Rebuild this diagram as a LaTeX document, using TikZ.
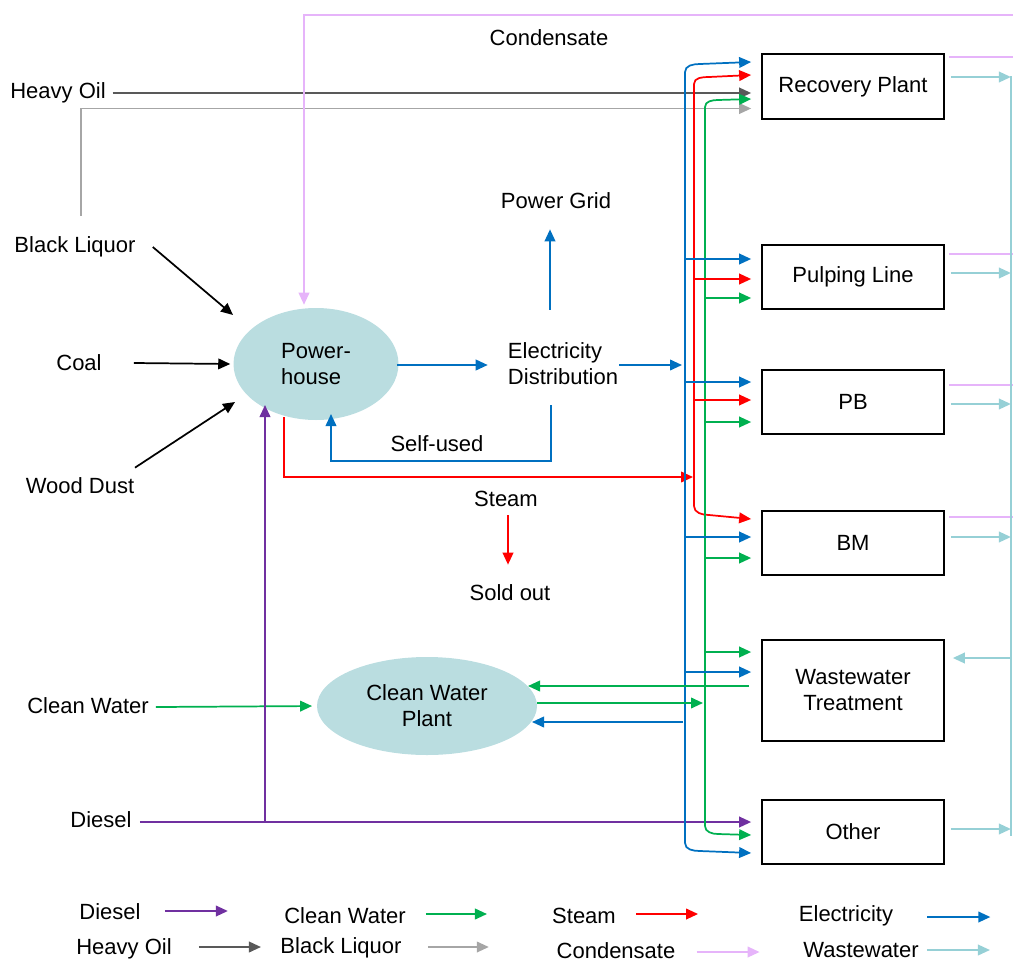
\documentclass[tikz,border=0pt]{standalone}
\usepackage{fontspec}
\setmainfont{Liberation Sans}
\usetikzlibrary{arrows.meta,shapes.geometric,calc}
\definecolor{cBlue}{RGB}{0,112,192}
\definecolor{cRed}{RGB}{255,0,0}
\definecolor{cGreen}{RGB}{0,176,80}
\definecolor{cPurple}{RGB}{112,48,160}
\definecolor{cDGray}{RGB}{89,89,89}
\definecolor{cLGray}{RGB}{166,166,166}
\definecolor{cPink}{RGB}{230,180,250}
\definecolor{cTeal}{RGB}{150,208,214}
\definecolor{cFill}{RGB}{186,221,224}
\begin{document}
\begin{tikzpicture}[x=0.75pt,y=-0.75pt,
  every node/.style={font=\fontsize{16.5}{19.5}\selectfont, inner sep=0pt},
  ln/.style={line width=1.3pt},
  arr/.style={-{Triangle[length=9pt,width=8pt]}},
  elec/.style={ln,cBlue,arr}, steam/.style={ln,cRed,arr}, water/.style={ln,cGreen,arr},
  dies/.style={ln,cPurple,arr}, hoil/.style={ln,cDGray,arr}, bliq/.style={ln,cLGray,arr},
  cond/.style={ln,cPink,arr}, wwat/.style={ln,cTeal,arr}, feed/.style={ln,black,arr},
  plain/.style={ln}, 
  box/.style={draw=black, line width=1.3pt, minimum width=136.5pt, minimum height=48.5pt, inner sep=2pt, align=center},
  plant/.style={ellipse, fill=cFill, align=center}
]
\useasboundingbox (0,0) rectangle (1013,964);

% ---------- boxes ----------
\node[box] (rp) at (853,86.5) {Recovery Plant};
\node[box] (pl) at (853,277) {Pulping Line};
\node[box] (pb) at (853,402) {PB};
\node[box] (bm) at (853,543) {BM};
\node[box, minimum height=75.75pt] (ww) at (853,690.5) {Wastewater\\Treatment};
\node[box] (ot) at (853,832) {Other};

% ---------- plants ----------
\node[plant, minimum width=123.75pt, minimum height=84pt, align=left] (ph) at (316,364) {Power-\\house};
\node[plant, minimum width=165pt, minimum height=73.5pt] (cw) at (427,706) {Clean Water\\Plant};

% ---------- labels ----------
\node (tHO) at (58,93) {Heavy Oil};
\node (tBL) at (75,247) {Black Liquor};
\node (tCo) at (79,363) {Coal};
\node (tWD) at (80,486) {Wood Dust};
\node (tCW) at (88,706) {Clean Water};
\node (tDi) at (101,820) {Diesel};
\node (tCond) at (549,38) {Condensate};
\node (tPG) at (556,201) {Power Grid};
\node[align=left] (ed) at (563,364) {Electricity\\Distribution};
\node (tSU) at (437,444) {Self-used};
\node (tSt) at (506,499) {Steam};
\node (tSO) at (510,593) {Sold out};

% ---------- heavy oil / black liquor ----------
\draw[hoil, shorten <=5pt, shorten >=7.5pt] (tHO.east) -- (tHO.east -| rp.west);
\coordinate (blTop) at (81,216);
\draw[bliq, shorten >=7.5pt] (blTop) |- ($(rp.west)+(0,22)$);

% ---------- feeds to power-house ----------
\draw[feed] ($(tBL.east)+(17,0)$) -- ($(ph.center)+(-83,-49)$);
\draw[feed] ($(tCo.east)+(32,0)$) -- ($(ph.west)+(-3,0)$);
\draw[feed] ($(tWD.north)+(55,-10)$) -- ($(ph.center)+(-81,38)$);

% ---------- condensate ----------
\draw[cond] (1013,15) -- (304,15) -- ($(ph.north)+(-12,-3)$);
\foreach \b/\dy in {rp/-29.5, pl/-23, pb/-17, bm/-26}{
  \draw[ln,cPink] ($(\b.east)+(4,\dy)$) -- ++(70,0);
}

% ---------- clean water / diesel ----------
\draw[water, shorten >=3.5pt] ($(tCW.east)+(7,1)$) -- (cw.west);
\draw[dies] ($(tDi.east)+(8,2)$) -- ($(ot.west)+(-10,-10)$);
\draw[dies] (265,822) -- ($(ph.center)+(-51,41)$);

% ---------- electricity from power-house ----------
\draw[elec] ($(ph.east)+(-2,1)$) -- ($(ed.west)+(-20,1)$);
\coordinate (busIn) at (682,365);
\draw[elec] ($(ed.east)+(1,1)$) -- (busIn);
\draw[elec] ($(ed.north)+(-13,-33)$) -- ($(tPG.south)+(-6,20)$);
\draw[plain,cBlue,arr] ($(ed.south)+(-12,20)$) -- ++(0,56) -| ($(ph.center)+(15,50)$);

% ---------- steam ----------
\draw[steam] ($(ph.center)+(-32,53)$) -- (284,477) -- (693,477);
\draw[steam] ($(tSt.south)+(2,8)$) -- ($(tSO.north)+(-2,-20)$);

% ---------- buses ----------
% electricity
\draw[elec] (685,400) -- (685,72) to[out=90,in=180] (700,64) -- ($(rp.west)+(-10,-24.5)$);
\draw[elec] (685,400) -- (685,843) to[out=-90,in=180] (700,851) -- ($(ot.west)+(-10,21)$);
% steam
\draw[steam] (694,300) -- (694,84) to[out=90,in=180] (709,77) -- ($(rp.west)+(-10,-11.5)$);
\draw[steam] (694,300) -- (694,506) to[out=-90,in=180] (709,515) -- ($(bm.west)+(-10,-24)$);
% clean water
\draw[water] (705,500) -- (705,107) to[out=90,in=180] (718,100) -- ($(rp.west)+(-10,12.5)$);
\draw[water] (705,500) -- (705,826) to[out=-90,in=180] (718,834) -- ($(ot.west)+(-10,3)$);

% branches
\draw[elec] (685,259) -- ($(pl.west)+(-10,-18)$);
\draw[steam] (694,279) -- ($(pl.west)+(-10,2)$);
\draw[water] (705,298) -- ($(pl.west)+(-10,21)$);
\draw[elec] (685,382) -- ($(pb.west)+(-10,-20)$);
\draw[steam] (694,400) -- ($(pb.west)+(-10,-2)$);
\draw[water] (705,422) -- ($(pb.west)+(-10,20)$);
\draw[elec] (685,537) -- ($(bm.west)+(-10,-6)$);
\draw[water] (705,558) -- ($(bm.west)+(-10,15)$);
\draw[water] (705,652) -- ($(ww.west)+(-10,-38.5)$);
\draw[elec] (685,672) -- ($(ww.west)+(-10,-18.5)$);

% clean water plant links
\draw[water] ($(ww.west)+(-12,-4.5)$) -- ($(cw.center)+(101,-20)$);
\draw[water] ($(cw.east)+(0,-3)$) -- (703,703);
\draw[elec] (683,722) -- ($(cw.center)+(105,16)$);

% ---------- wastewater collector ----------
\draw[ln,cTeal] (1011,76) -- (1011,836);
\foreach \b/\dy in {rp/-9.5, pl/-4, pb/2, bm/-6, ot/-3}{
  \draw[wwat] ($(\b.east)+(6,\dy)$) -- ($(\b.east)+(66,\dy)$);
}
\draw[wwat] (1011,658) -- ($(ww.east)+(8,-32.5)$);

% ---------- legend ----------
\node (lDi) at (110,912) {Diesel};
\draw[dies] ($(lDi.east)+(24,-1)$) -- ++(63,0);
\node (lCW) at (345,916) {Clean Water};
\draw[water] ($(lCW.east)+(20,-2)$) -- ++(61,0);
\node (lSt) at (584,916) {Steam};
\draw[steam] ($(lSt.east)+(20,-2)$) -- ++(62,0);
\node (lEl) at (846,916) {Electricity};
\draw[elec] ($(lEl.east)+(34,1)$) -- ++(63,0);
\node (lHO) at (124,949) {Heavy Oil};
\draw[hoil] ($(lHO.east)+(27,-2)$) -- ++(62,0);
\node (lBL) at (341,948) {Black Liquor};
\draw[bliq] ($(lBL.east)+(26,-1)$) -- ++(61,0);
\node (lCo) at (616,951) {Condensate};
\draw[cond] ($(lCo.east)+(21,1)$) -- ++(63,0);
\node (lWW) at (861,950) {Wastewater};
\draw[wwat] ($(lWW.east)+(8,0)$) -- ++(63,0);
\end{tikzpicture}
\end{document}
